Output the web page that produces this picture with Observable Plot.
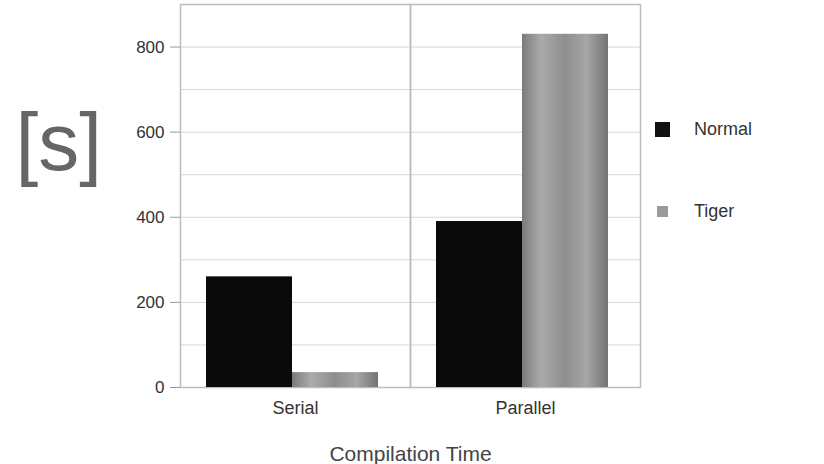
<!DOCTYPE html>
<html>
<head>
<meta charset="utf-8">
<script src="https://cdn.jsdelivr.net/npm/d3@7"></script>
<script src="https://cdn.jsdelivr.net/npm/@observablehq/plot@0.6"></script>
<style>
  html, body { margin: 0; padding: 0; background: #fff; }
  #wrap { position: relative; width: 824px; height: 464px; overflow: hidden; font-family: "Liberation Sans", Arial, sans-serif; }
  .leg { position: absolute; display: flex; align-items: center; font-size: 18px; color: #333; }
  .sw { display: inline-block; margin-right: 20px; }
</style>
</head>
<body>
<div id="wrap"></div>
<script>
const groups = ["Serial", "Parallel"];
const seriesNames = ["Normal", "Tiger"];
const normalValues = [260, 390];
const tigerValues = [35, 830];
const yTicks = [0, 200, 400, 600, 800];
const gridValues = [0, 100, 200, 300, 400, 500, 600, 700, 800, 900];
const yTitle = "[s]";
const xTitle = "Compilation Time";

const data = [];
groups.forEach((g, i) => {
  data.push({group: g, series: seriesNames[0], value: normalValues[i]});
  data.push({group: g, series: seriesNames[1], value: tigerValues[i]});
});

const chart = Plot.plot({
  width: 824,
  height: 464,
  marginLeft: 180,
  marginRight: 184,
  marginTop: 4,
  marginBottom: 77,
  style: {fontFamily: "Liberation Sans, Arial, sans-serif", fontSize: "17px", color: "#333", background: "#fff"},
  fx: {domain: groups, padding: 0, label: null, axis: null},
  x: {domain: seriesNames, paddingInner: 0, paddingOuter: 0.33, axis: null},
  y: {domain: [0, 900], label: null},
  marks: [
    Plot.ruleY(gridValues, {stroke: "#d6d6d6", strokeWidth: 1}),
    Plot.frame({stroke: "#bdbdbd", strokeWidth: 1.5}),
    Plot.barY(data.filter(d => d.series === seriesNames[0]), {fx: "group", x: "series", y: "value", fill: "#0a0a0a", insetLeft: 0, insetRight: 0, dx: -3}),
    Plot.barY(data.filter(d => d.series === seriesNames[1]), {fx: "group", x: "series", y: "value", fill: "url(#tigerGrad)", insetLeft: 0, insetRight: 0, dx: -3}),
    Plot.axisY({ticks: yTicks, tickSize: 10, tickPadding: 6, tickFormat: d => String(d), fontSize: 17, stroke: "#999", label: null}),
    Plot.axisFx({anchor: "bottom", tickSize: 0, tickPadding: 14, fontSize: 18, label: null}),
    Plot.text([yTitle], {frameAnchor: "left", dx: -165, dy: -52, fontSize: 82, fill: "#666", textAnchor: "start", facetAnchor: "left"}),
    Plot.text([xTitle], {frameAnchor: "bottom", dy: 73, fontSize: 21, fill: "#444", facet: "super"})
  ]
});

const ns = "http://www.w3.org/2000/svg";
const defs = document.createElementNS(ns, "defs");
defs.innerHTML = `<linearGradient id="tigerGrad" x1="0" x2="1" y1="0" y2="0">
  <stop offset="0" stop-color="#7a7a7a"/>
  <stop offset="0.22" stop-color="#ababab"/>
  <stop offset="0.5" stop-color="#8e8e8e"/>
  <stop offset="0.75" stop-color="#a6a6a6"/>
  <stop offset="1" stop-color="#737373"/>
</linearGradient>`;
chart.insertBefore(defs, chart.firstChild);

const wrap = document.getElementById("wrap");
wrap.appendChild(chart);

const legendItems = [
  {name: seriesNames[0], color: "#111", size: 15, top: 119},
  {name: seriesNames[1], color: "#9a9a9a", size: 11, top: 201}
];
legendItems.forEach(it => {
  const div = document.createElement("div");
  div.className = "leg";
  div.style.left = (662 - it.size / 2) + "px";
  div.style.top = it.top + "px";
  div.style.height = "20px";
  const sw = document.createElement("span");
  sw.className = "sw";
  sw.style.width = it.size + "px";
  sw.style.height = it.size + "px";
  sw.style.background = it.color;
  sw.style.marginRight = (32 - it.size / 2) + "px";
  div.appendChild(sw);
  div.appendChild(document.createTextNode(it.name));
  wrap.appendChild(div);
});
</script>
</body>
</html>
